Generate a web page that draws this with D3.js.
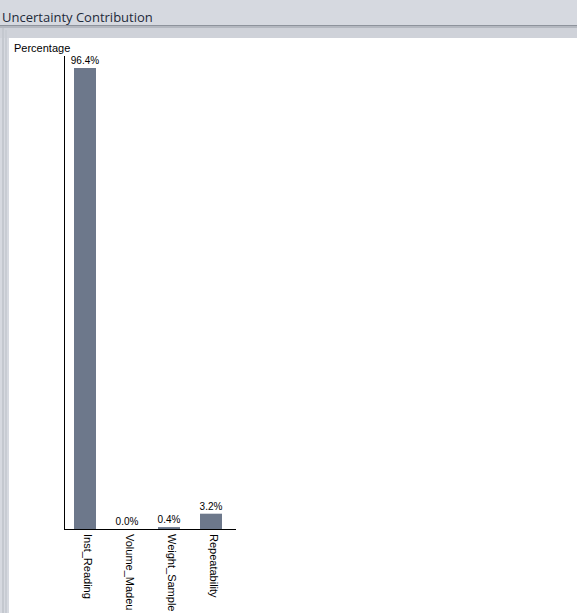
<!DOCTYPE html>
<html><head><meta charset="utf-8">
<script src="https://cdn.jsdelivr.net/npm/d3@7"></script>
<style>
html,body{margin:0;padding:0;background:#d6d9e0;overflow:hidden}
svg{display:block}
</style></head>
<body>
<script>
const categories = ["Inst_Reading", "Volume_Madeu", "Weight_Sample", "Repeatability"];
const values = [96.4, 0.0, 0.4, 3.2];
const valueLabels = ["96.4%", "0.0%", "0.4%", "3.2%"];
const yTitle = "Percentage";
const title = "Uncertainty Contribution";

const W = 577, H = 613;
const svg = d3.select("body").append("svg").attr("width", W).attr("height", H);

// window chrome
svg.append("rect").attr("x",0).attr("y",0).attr("width",W).attr("height",H).attr("fill","#d6d9e0");
svg.append("rect").attr("x",0).attr("y",25).attr("width",W).attr("height",1).attr("fill","#8e939c");
svg.append("rect").attr("x",0).attr("y",26).attr("width",W).attr("height",2).attr("fill","#b4b8c0");
svg.append("rect").attr("x",0).attr("y",28).attr("width",W).attr("height",10).attr("fill","#cfd2d9");
svg.append("rect").attr("x",2).attr("y",28).attr("width",2).attr("height",H).attr("fill","#c4c8cf");
svg.append("rect").attr("x",5).attr("y",30).attr("width",2).attr("height",H).attr("fill","#c8ccd3");
svg.append("rect").attr("x",9).attr("y",38).attr("width",W-9).attr("height",H-38).attr("fill","#ffffff");
svg.append("text").attr("x",2).attr("y",22).text(title)
  .attr("font-family","'Open Sans', 'Noto Sans', sans-serif").attr("font-size",13).attr("fill","#1e2a3a");

// chart
const x0 = 64, xEnd = 236, yBase = 529;
const x = d3.scaleBand().domain(categories).range([x0, x0 + 168]).paddingInner(20/42).paddingOuter(10/42);
const y = d3.scaleLinear().domain([0, 100]).range([yBase, yBase - 478.2]);

const g = svg.append("g");
g.selectAll("rect.bar").data(values).join("rect").attr("class","bar")
  .attr("x",(d,i)=>x(categories[i]))
  .attr("width",x.bandwidth())
  .attr("y",d=>y(d))
  .attr("height",d=>yBase - y(d))
  .attr("fill","#6d788b");

g.selectAll("text.val").data(values).join("text").attr("class","val")
  .attr("x",(d,i)=>x(categories[i]) + x.bandwidth()/2)
  .attr("y",d=>y(d) - 4)
  .attr("text-anchor","middle")
  .attr("font-family","'Liberation Sans', Arial, sans-serif").attr("font-size",10)
  .attr("fill","#000")
  .text((d,i)=>valueLabels[i]);

// axes lines
g.append("line").attr("x1",x0+0.5).attr("x2",x0+0.5).attr("y1",56).attr("y2",yBase+0.5).attr("stroke","#000");
g.append("line").attr("x1",x0).attr("x2",xEnd).attr("y1",yBase+0.5).attr("y2",yBase+0.5).attr("stroke","#000");

// category labels rotated
g.selectAll("text.cat").data(categories).join("text").attr("class","cat")
  .attr("transform",d=>`translate(${x(d)+x.bandwidth()/2+3},${yBase+5}) rotate(90)`)
  .attr("dy","0.35em")
  .attr("font-family","'Liberation Sans', Arial, sans-serif").attr("font-size",11)
  .attr("fill","#000")
  .text(d=>d);

svg.append("text").attr("x",14).attr("y",52).text(yTitle)
  .attr("font-family","'Liberation Sans', Arial, sans-serif").attr("font-size",11).attr("fill","#000");
</script>
</body></html>
